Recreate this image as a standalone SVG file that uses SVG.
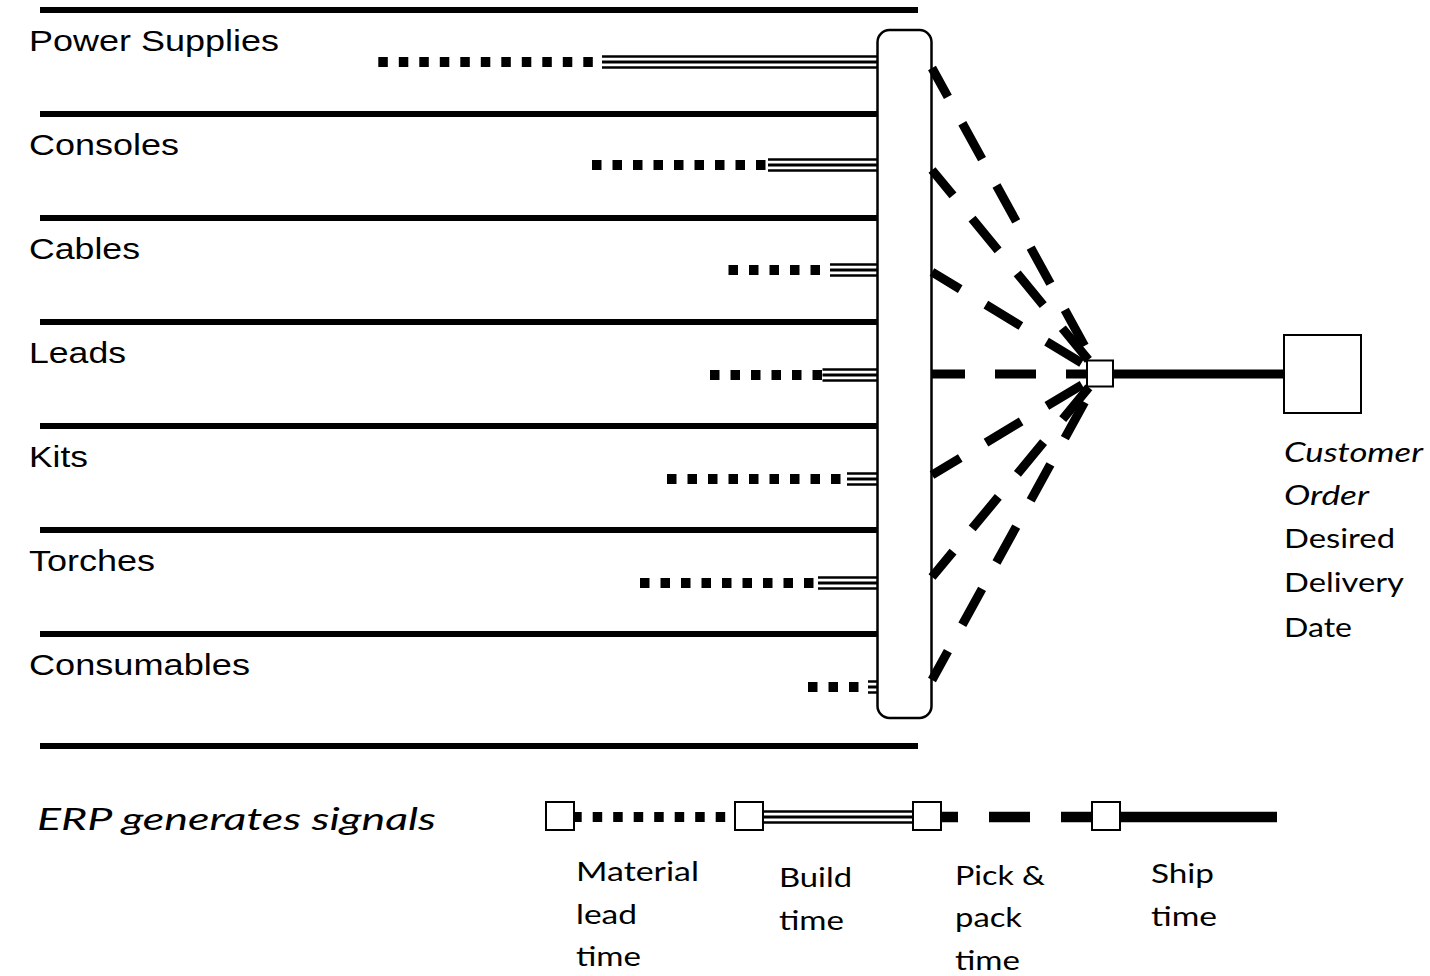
<svg xmlns="http://www.w3.org/2000/svg" width="1430" height="976" viewBox="0 0 1430 976">
<style>
.sep{stroke:#000;stroke-width:6;fill:none}
.dot{stroke:#000;stroke-width:10;stroke-dasharray:9.5 11;fill:none}
.tri{stroke:#000;fill:none}
.dash{stroke:#000;stroke-width:9;stroke-dasharray:41 30;stroke-dashoffset:8;fill:none}
.solid{stroke:#000;fill:none}
.box{fill:#fff;stroke:#000;stroke-width:2}
.lbl{font-family:"Liberation Sans",Arial,sans-serif;font-size:29px;fill:#000}
.cal{font-family:Lato,"Open Sans",sans-serif;font-size:26.5px;fill:#000}
.it{font-style:italic}
</style>
<rect width="1430" height="976" fill="#fff"/>
<g id="separators">
<line class="sep" x1="40" y1="10" x2="918" y2="10"/>
<line class="sep" x1="40" y1="114" x2="918" y2="114"/>
<line class="sep" x1="40" y1="218" x2="918" y2="218"/>
<line class="sep" x1="40" y1="322" x2="918" y2="322"/>
<line class="sep" x1="40" y1="426" x2="918" y2="426"/>
<line class="sep" x1="40" y1="530" x2="918" y2="530"/>
<line class="sep" x1="40" y1="634" x2="918" y2="634"/>
<line class="sep" x1="40" y1="746" x2="918" y2="746"/>
</g>
<g id="row-power-supplies">
<text class="lbl" x="29" y="51" textLength="250" lengthAdjust="spacingAndGlyphs">Power Supplies</text>
<line class="dot" x1="378.3" y1="62" x2="602" y2="62"/>
<g class="tri"><line x1="602" y1="56.5" x2="877" y2="56.5" stroke-width="2.5"/><line x1="602" y1="62" x2="877" y2="62" stroke-width="3"/><line x1="602" y1="67.5" x2="877" y2="67.5" stroke-width="2.5"/></g>
</g>
<g id="row-consoles">
<text class="lbl" x="29" y="155" textLength="150" lengthAdjust="spacingAndGlyphs">Consoles</text>
<line class="dot" x1="592" y1="165" x2="768" y2="165"/>
<g class="tri"><line x1="768" y1="159.5" x2="877" y2="159.5" stroke-width="2.5"/><line x1="768" y1="165" x2="877" y2="165" stroke-width="3"/><line x1="768" y1="170.5" x2="877" y2="170.5" stroke-width="2.5"/></g>
</g>
<g id="row-cables">
<text class="lbl" x="29" y="259" textLength="111" lengthAdjust="spacingAndGlyphs">Cables</text>
<line class="dot" x1="728.5" y1="270" x2="830" y2="270"/>
<g class="tri"><line x1="830" y1="264.5" x2="877" y2="264.5" stroke-width="2.5"/><line x1="830" y1="270" x2="877" y2="270" stroke-width="3"/><line x1="830" y1="275.5" x2="877" y2="275.5" stroke-width="2.5"/></g>
</g>
<g id="row-leads">
<text class="lbl" x="29" y="363" textLength="97" lengthAdjust="spacingAndGlyphs">Leads</text>
<line class="dot" x1="710" y1="375" x2="822.5" y2="375"/>
<g class="tri"><line x1="822.5" y1="369.5" x2="877" y2="369.5" stroke-width="2.5"/><line x1="822.5" y1="375" x2="877" y2="375" stroke-width="3"/><line x1="822.5" y1="380.5" x2="877" y2="380.5" stroke-width="2.5"/></g>
</g>
<g id="row-kits">
<text class="lbl" x="29" y="467" textLength="59" lengthAdjust="spacingAndGlyphs">Kits</text>
<line class="dot" x1="667" y1="479" x2="847" y2="479"/>
<g class="tri"><line x1="847" y1="473.5" x2="877" y2="473.5" stroke-width="2.5"/><line x1="847" y1="479" x2="877" y2="479" stroke-width="3"/><line x1="847" y1="484.5" x2="877" y2="484.5" stroke-width="2.5"/></g>
</g>
<g id="row-torches">
<text class="lbl" x="29" y="571" textLength="126" lengthAdjust="spacingAndGlyphs">Torches</text>
<line class="dot" x1="640" y1="583" x2="818" y2="583"/>
<g class="tri"><line x1="818" y1="577.5" x2="877" y2="577.5" stroke-width="2.5"/><line x1="818" y1="583" x2="877" y2="583" stroke-width="3"/><line x1="818" y1="588.5" x2="877" y2="588.5" stroke-width="2.5"/></g>
</g>
<g id="row-consumables">
<text class="lbl" x="29" y="675" textLength="221" lengthAdjust="spacingAndGlyphs">Consumables</text>
<line class="dot" x1="808" y1="687" x2="868" y2="687"/>
<g class="tri"><line x1="868" y1="681.5" x2="877" y2="681.5" stroke-width="2.5"/><line x1="868" y1="687" x2="877" y2="687" stroke-width="3"/><line x1="868" y1="692.5" x2="877" y2="692.5" stroke-width="2.5"/></g>
</g>
<g id="hub">
<rect x="877.5" y="30" width="54" height="688" rx="12" fill="#fff" stroke="#000" stroke-width="2.5"/>
</g>
<g id="connectors">
<line class="dash" x1="932" y1="68" x2="1100" y2="374"/>
<line class="dash" x1="932" y1="170" x2="1100" y2="374"/>
<line class="dash" x1="932" y1="272" x2="1100" y2="374"/>
<line class="dash" x1="932" y1="374" x2="1100" y2="374"/>
<line class="dash" x1="932" y1="475" x2="1100" y2="374"/>
<line class="dash" x1="932" y1="577" x2="1100" y2="374"/>
<line class="dash" x1="932" y1="680" x2="1100" y2="374"/>
<line class="solid" x1="1100" y1="374" x2="1284" y2="374" stroke-width="9"/>
</g>
<g id="merge-point">
<rect class="box" x="1087" y="360.5" width="26" height="26"/>
</g>
<g id="customer-order">
<rect class="box" x="1284" y="335" width="77" height="78"/>
<text class="cal it" x="1284" y="462" textLength="139" lengthAdjust="spacingAndGlyphs">Customer</text>
<text class="cal it" x="1284" y="505" textLength="85" lengthAdjust="spacingAndGlyphs">Order</text>
<text class="cal" x="1284" y="548" textLength="111" lengthAdjust="spacingAndGlyphs">Desired</text>
<text class="cal" x="1284" y="592" textLength="120" lengthAdjust="spacingAndGlyphs">Delivery</text>
<text class="cal" x="1284" y="637" textLength="68" lengthAdjust="spacingAndGlyphs">Date</text>
</g>
<g id="legend">
<text class="cal it" x="37" y="830" style="font-size:31px" textLength="399" lengthAdjust="spacingAndGlyphs">ERP generates signals</text>
<line class="dot" x1="572.2" y1="817" x2="734" y2="817"/>
<g class="tri"><line x1="763" y1="811.5" x2="912" y2="811.5" stroke-width="2.5"/><line x1="763" y1="817" x2="912" y2="817" stroke-width="3"/><line x1="763" y1="822.5" x2="912" y2="822.5" stroke-width="2.5"/></g>
<line x1="941" y1="817" x2="1092" y2="817" stroke="#000" stroke-width="10.5" stroke-dasharray="41 31" stroke-dashoffset="24"/>
<line class="solid" x1="1120" y1="817" x2="1277" y2="817" stroke-width="10.5"/>
<rect class="box" x="546" y="802" width="28" height="28"/>
<rect class="box" x="735" y="802" width="28" height="28"/>
<rect class="box" x="913" y="802" width="28" height="28"/>
<rect class="box" x="1092" y="802" width="28" height="28"/>
<text class="cal" x="576" y="881" textLength="123" lengthAdjust="spacingAndGlyphs">Material</text>
<text class="cal" x="576" y="924" textLength="61" lengthAdjust="spacingAndGlyphs">lead</text>
<text class="cal" x="576" y="966" textLength="65" lengthAdjust="spacingAndGlyphs">time</text>
<text class="cal" x="779" y="887" textLength="73" lengthAdjust="spacingAndGlyphs">Build</text>
<text class="cal" x="779" y="930" textLength="65" lengthAdjust="spacingAndGlyphs">time</text>
<text class="cal" x="955" y="885" textLength="90" lengthAdjust="spacingAndGlyphs">Pick &amp;</text>
<text class="cal" x="955" y="927" textLength="67" lengthAdjust="spacingAndGlyphs">pack</text>
<text class="cal" x="955" y="970" textLength="65" lengthAdjust="spacingAndGlyphs">time</text>
<text class="cal" x="1151" y="883" textLength="63" lengthAdjust="spacingAndGlyphs">Ship</text>
<text class="cal" x="1151" y="926" textLength="66" lengthAdjust="spacingAndGlyphs">time</text>
</g>
</svg>
